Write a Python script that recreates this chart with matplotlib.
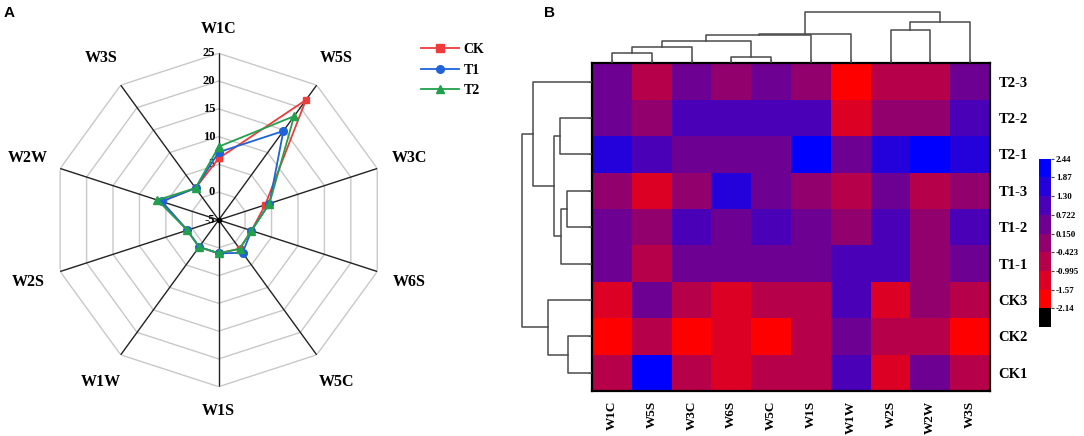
import numpy as np
import matplotlib
matplotlib.use('Agg')
import matplotlib.pyplot as plt
from matplotlib.colors import ListedColormap, BoundaryNorm
from matplotlib.lines import Line2D
from matplotlib.ticker import NullLocator, FixedLocator, FixedFormatter
import matplotlib.colorbar as mcolorbar

# ---------------- data ----------------
categories = ['W1C', 'W5S', 'W3C', 'W6S', 'W5C', 'W1S', 'W1W', 'W2S', 'W2W', 'W3S']
ck = [6.1, 21.7, 3.8, 1.2, 1.4, 1.0, 1.0, 0.95, 5.8, 2.1]
t1 = [7.2, 14.8, 4.6, 1.2, 2.3, 1.0, 1.0, 0.95, 5.8, 2.1]
t2 = [8.2, 18.1, 4.6, 1.2, 1.4, 1.0, 1.0, 0.95, 6.6, 2.1]
radar_ticks = [-5, 0, 5, 10, 15, 20, 25]

hm_cols = ['W1C', 'W5S', 'W3C', 'W6S', 'W5C', 'W1S', 'W1W', 'W2S', 'W2W', 'W3S']
hm_rows = ['T2-3', 'T2-2', 'T2-1', 'T1-3', 'T1-2', 'T1-1', 'CK3', 'CK2', 'CK1']
hm_values = [
    [0.44, -0.71, 0.44, -0.14, 0.44, -0.14, -1.85, -0.71, -0.71, 0.44],
    [0.44, -0.14, 1.01, 1.01, 1.01, 1.01, -1.28, -0.14, -0.14, 1.01],
    [1.59, 1.01, 0.44, 0.44, 0.44, 2.16, 0.44, 1.59, 2.16, 1.59],
    [-0.14, -1.28, -0.14, 1.59, 0.44, -0.14, -0.71, 0.44, -0.71, -0.14],
    [0.44, -0.14, 1.01, 0.44, 1.01, 0.44, -0.14, 1.01, -0.14, 1.01],
    [0.44, -0.71, 0.44, 0.44, 0.44, 0.44, 1.01, 1.01, -0.14, 0.44],
    [-1.28, 0.44, -0.71, -1.28, -0.71, -0.71, 1.01, -1.28, -0.14, -0.71],
    [-1.85, -0.71, -1.85, -1.28, -1.85, -0.71, 0.44, -0.71, -0.71, -1.85],
    [-0.71, 2.16, -0.71, -1.28, -0.71, -0.71, 1.01, -1.28, 0.44, -0.71],
]
cbar_bounds = [-2.14, -1.57, -0.995, -0.423, 0.150, 0.722, 1.30, 1.87, 2.44]
cbar_labels = ['-2.14', '-1.57', '-0.995', '-0.423', '0.150', '0.722', '1.30', '1.87', '2.44']

# dendrogram merges: (a, b, height); new cluster ids continue after leaves
col_links = [(0, 1, 10.7), (10, 2, 16.7), (3, 4, 6.7), (11, 12, 22.7),
             (13, 5, 28.0), (14, 6, 29.5), (7, 8, 33.3), (16, 9, 41.0),
             (15, 17, 51.7)]
row_links = [(1, 2, 31.7), (3, 4, 24.7), (10, 5, 31.3), (9, 11, 38.0),
             (0, 12, 59.3), (7, 8, 24.0), (6, 14, 43.7), (13, 15, 70.0)]

# ---------------- style ----------------
plt.rcParams['font.family'] = ['Liberation Serif', 'DejaVu Serif']
plt.rcParams['font.weight'] = 'bold'
W, H = 1084, 436
fig = plt.figure(figsize=(W / 100, H / 100), dpi=100)


def fx(px):
    return px / W


def fy(py):
    return 1 - py / H


# ---------------- Panel A: radar ----------------
cx, cy, R = 218.7, 220.0, 166.7
ax = fig.add_axes([fx(cx - R), fy(cy + R), fx(2 * R), 2 * R / H], projection='polar')
ax.set_theta_zero_location('N')
ax.set_theta_direction(-1)
ax.set_ylim(-5, 25)
ax.grid(False)
ax.spines['polar'].set_visible(False)
ax.set_xticks([])
ax.set_yticks([])
ax.patch.set_visible(False)

n = len(categories)
theta = np.arange(n) * 2 * np.pi / n
theta_c = np.append(theta, theta[0])
for rv in radar_ticks[1:]:
    ax.plot(theta_c, [rv] * (n + 1), color='#c8c8c8', lw=1.0, zorder=1)
for th in theta:
    ax.plot([th, th], [-5, 25], color='#222222', lw=1.0, zorder=2)
ax.plot([0], [-5], marker='o', ms=3, color='black', zorder=2)

for rv in radar_ticks:
    ax.annotate(str(rv), xy=(0, rv), xytext=(-2.5, 0), textcoords='offset points',
                ha='right', va='center', fontsize=9, fontweight='bold')

for th, lab in zip(theta, categories):
    r_lab = 29.4 if lab in ('W1C', 'W1S') else 31.1
    ax.text(th, r_lab, lab, ha='center', va='center', fontsize=11.5,
            fontweight='bold', clip_on=False)

series = [('CK', ck, '#ee3b3b', 's'), ('T1', t1, '#1f63d8', 'o'), ('T2', t2, '#22a04e', '^')]
handles = []
for name, vals, col, mk in series:
    ax.plot(theta_c, list(vals) + [vals[0]], color=col, lw=1.3, marker=mk,
            ms=5.5 if mk != 's' else 5, zorder=3, clip_on=False)
    handles.append(Line2D([], [], color=col, lw=1.3, marker=mk, ms=5.5, label=name))

fig.legend(handles=handles, loc='upper left', bbox_to_anchor=(fx(421), fy(43)),
           frameon=False, borderpad=0, borderaxespad=0, handlelength=2.7,
           handletextpad=0.35, labelspacing=0.55,
           prop={'family': 'Liberation Serif', 'weight': 'bold', 'size': 10})

# ---------------- Panel B: heatmap ----------------
hx0, hx1, hy0, hy1 = 592, 990, 63.3, 391
axh = fig.add_axes([fx(hx0), fy(hy1), fx(hx1 - hx0), (hy1 - hy0) / H])
colors = ['#000000']
for k in range(8):
    colors.append((1 - k / 7, 0, k / 7))
colors.append('#ffffff')
cmap = ListedColormap(colors)
step = cbar_bounds[1] - cbar_bounds[0]
full_bounds = [cbar_bounds[0] - step] + cbar_bounds + [cbar_bounds[-1] + step]
norm = BoundaryNorm(full_bounds, cmap.N)
vals = np.array(hm_values)
axh.pcolormesh(np.arange(len(hm_cols) + 1), np.arange(len(hm_rows) + 1), vals,
               cmap=cmap, norm=norm)
axh.set_xlim(0, len(hm_cols))
axh.set_ylim(len(hm_rows), 0)
axh.set_xticks(np.arange(len(hm_cols)) + 0.5)
axh.set_xticklabels(hm_cols, rotation=90, fontsize=9.5, fontweight='bold')
axh.set_yticks(np.arange(len(hm_rows)) + 0.5)
axh.set_yticklabels(hm_rows, fontsize=10.5, fontweight='bold')
axh.tick_params(axis='x', bottom=False, top=True, labelbottom=True, labeltop=False,
                length=3, color='#777777', pad=4)
axh.tick_params(axis='y', left=True, right=False, labelleft=False, labelright=True,
                length=3, color='#777777', pad=3)
for sp in axh.spines.values():
    sp.set_linewidth(1.6)
    sp.set_color('black')


def draw_dendro(a, links, nleaf, orient):
    pos = {i: i + 0.5 for i in range(nleaf)}
    hgt = {i: 0.0 for i in range(nleaf)}
    for k, (p, q, h) in enumerate(links):
        xs = [pos[p], pos[p], pos[q], pos[q]]
        ys = [hgt[p], h, h, hgt[q]]
        if orient == 'top':
            a.plot(xs, ys, color='#4a4a4a', lw=1.1)
        else:
            a.plot(ys, xs, color='#4a4a4a', lw=1.1)
        pos[nleaf + k] = (pos[p] + pos[q]) / 2
        hgt[nleaf + k] = h


axt = fig.add_axes([fx(hx0), fy(hy0), fx(hx1 - hx0), 56 / H])
draw_dendro(axt, col_links, len(hm_cols), 'top')
axt.set_xlim(0, len(hm_cols))
axt.set_ylim(0, 56)
axt.axis('off')

axl = fig.add_axes([fx(hx0 - 76), fy(hy1), fx(76), (hy1 - hy0) / H])
draw_dendro(axl, row_links, len(hm_rows), 'left')
axl.set_ylim(len(hm_rows), 0)
axl.set_xlim(76, 0)
axl.axis('off')

# colorbar
cax = fig.add_axes([fx(1039), fy(327), fx(12), 187 / H])
cb = mcolorbar.ColorbarBase(cax, cmap=cmap, norm=norm, boundaries=full_bounds,
                            spacing='uniform')
cb.outline.set_visible(False)
cax.yaxis.set_major_locator(FixedLocator(cbar_bounds))
cax.yaxis.set_major_formatter(FixedFormatter(cbar_labels))
cax.yaxis.set_minor_locator(NullLocator())
cax.tick_params(length=2, width=0.8, labelsize=6.5, pad=1.5, color='#444444')
for t in cax.get_yticklabels():
    t.set_fontweight('bold')

# panel labels
fig.text(fx(4), fy(13), 'A', family='Liberation Sans', fontweight='bold', fontsize=11, va='center')
fig.text(fx(544), fy(13), 'B', family='Liberation Sans', fontweight='bold', fontsize=11, va='center')

fig.savefig('out.png', dpi=100)
